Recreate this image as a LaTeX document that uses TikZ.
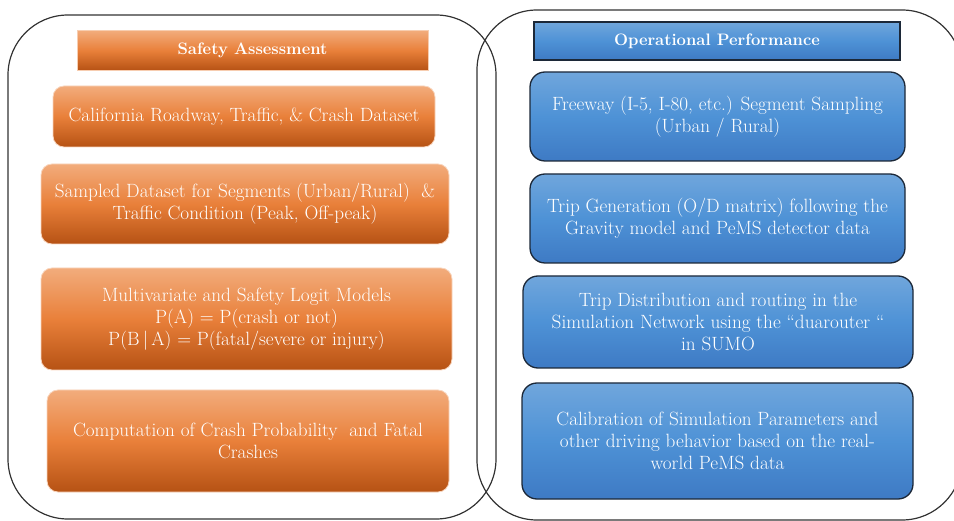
\documentclass[tikz,border=0pt]{standalone}
\usepackage{tikz}
\usetikzlibrary{positioning}
\definecolor{orangetop}{RGB}{242,172,124}
\definecolor{orangemid}{RGB}{233,128,58}
\definecolor{orangebot}{RGB}{182,82,20}
\definecolor{bluetop}{RGB}{112,166,220}
\definecolor{bluemid}{RGB}{78,146,214}
\definecolor{bluebot}{RGB}{62,122,196}
\definecolor{navyline}{RGB}{28,40,56}

\tikzset{
  panel/.style={draw=black!80, line width=1.2pt, rounded corners=60pt},
  safehead/.style={top color=orangetop, bottom color=orangebot, middle color=orangemid,
    draw=orangetop!60, line width=0.6pt, text=white, font=\fontsize{16.6}{20}\selectfont\bfseries},
  opshead/.style={top color=bluetop, bottom color=bluebot, middle color=bluemid,
    draw=navyline, line width=1.3pt, text=white, font=\fontsize{16.6}{20}\selectfont\bfseries},
  safebox/.style={top color=orangetop, bottom color=orangebot, middle color=orangemid,
    draw=orangetop!50, line width=0.8pt, rounded corners=11pt, text=white, align=center,
    font=\fontsize{19.2}{21.7}\selectfont, inner sep=0pt},
  opsbox/.style={top color=bluetop, bottom color=bluebot, middle color=bluemid,
    draw=navyline, line width=1.3pt, rounded corners=15pt, text=white, align=center,
    font=\fontsize{19.2}{21.7}\selectfont, inner sep=0pt}
}

\begin{document}
\begin{tikzpicture}[x=1pt,y=-1pt]
\useasboundingbox (0,0) rectangle (954,521);

% the two panels
\draw[panel] (8,15) rectangle (496,519);
\draw[panel] (477,10) rectangle (962,520);

% safety assessment side
\node(sa)[safehead, minimum width=351pt, minimum height=40pt] at (252.5,50.5) {Safety Assessment};
\node(sa1)[safebox, minimum width=382pt, minimum height=61pt] at (244,116.5) {California Roadway, Traffic, \& Crash Dataset};
\node(sa2)[safebox, minimum width=408pt, minimum height=80pt] at (245,204) {Sampled Dataset for Segments (Urban/Rural)\ \ \&\\ Traffic Condition (Peak, Off-peak)};
\node(sa3)[safebox, minimum width=411pt, minimum height=102pt] at (246.5,319) {Multivariate and Safety Logit Models\\ P(A) = P(crash or not)\\ P(B\,|\,A) = P(fatal/severe or injury)};
\node(sa4)[safebox, minimum width=402pt, minimum height=102pt] at (248,441) {Computation of Crash Probability\ \ and Fatal\\ Crashes};

% operational performance side
\node(op)[opshead, minimum width=366pt, minimum height=38pt] at (717,41) {Operational Performance};
\node(op1)[opsbox, minimum width=375pt, minimum height=89pt] at (717.5,116.5) {Freeway (I-5, I-80, etc.) Segment Sampling\\ (Urban / Rural)};
\node(op2)[opsbox, minimum width=375pt, minimum height=89pt] at (717.5,218.5) {Trip Generation (O/D matrix) following the\\ Gravity model and PeMS detector data};
\node(op3)[opsbox, minimum width=390pt, minimum height=92pt] at (718,322) {Trip Distribution and routing in the\\ Simulation Network using the \textquotedblleft duarouter \textquotedblleft\\ in SUMO};
\node(op4)[opsbox, minimum width=391pt, minimum height=116pt] at (717.5,441) {Calibration of Simulation Parameters and\\ other driving behavior based on the real-\\ world PeMS data};
\end{tikzpicture}
\end{document}
